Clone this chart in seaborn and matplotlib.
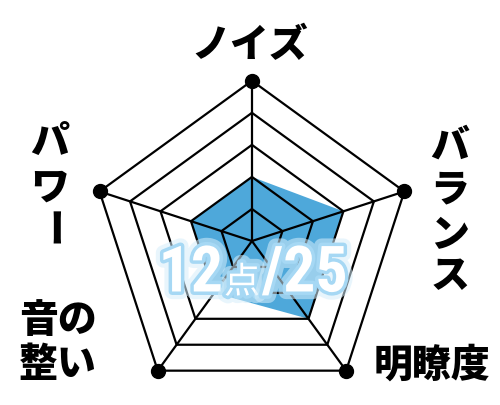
import numpy as np
import matplotlib.pyplot as plt
import matplotlib.patheffects as pe
import seaborn as sns

# --- データ ---
categories = ["ノイズ", "バランス", "明瞭度", "音の整い", "パワー"]
scores = [2, 3, 3, 2, 2]
max_score = 5
total_text = "12"
total_unit = "点"
total_max = "/25"

sns.set_theme(style="white")
plt.rcParams["font.family"] = ["Noto Sans CJK JP", "DejaVu Sans"]

fig = plt.figure(figsize=(5, 4.05), dpi=100)
fig.patch.set_facecolor("white")

# 極座標の軸 (中心 252,241 px / 半径 160 px)
ax = fig.add_axes([0.1834, 0.0091, 0.641, 0.7916], projection="polar")
ax.set_theta_offset(np.pi / 2)
ax.set_theta_direction(-1)
ax.set_ylim(0, max_score)
ax.axis("off")

n = len(categories)
angles = np.linspace(0, 2 * np.pi, n, endpoint=False)
ang_closed = np.append(angles, angles[0])

# 点数の塗り
vals = np.append(scores, scores[0])
ax.fill(ang_closed, vals, color="#4ea8da", zorder=1, lw=0)

# グリッド (五角形)
for lv in range(1, max_score + 1):
    ax.plot(ang_closed, [lv] * (n + 1), color="black", lw=1.6, zorder=2)
for a in angles:
    ax.plot([a, a], [0, max_score], color="black", lw=1.6, zorder=2)
ax.plot(angles, [max_score] * n, "o", color="black", ms=10, zorder=3, clip_on=False)

# ラベル
bold = dict(fontweight="heavy", color="black", ha="center", va="center")
fig.text(250 / 500, 1 - 45 / 405, "ノイズ", fontsize=28, **bold)
fig.text(432 / 500, 1 - 365 / 405, "明瞭度", fontsize=28, **bold)
fig.text(58 / 500, 1 - 320 / 405, "音の", fontsize=28, **bold)
fig.text(58 / 500, 1 - 364 / 405, "整い", fontsize=28, **bold)

# 縦書きラベル
for ch, y in zip("パワー", [142, 188, 229]):
    rot = -90 if ch == "ー" else 0
    fig.text(50 / 500, 1 - y / 405, ch, fontsize=28, rotation=rot, **bold)
for ch, y in zip("バランス", [146, 190, 235, 276]):
    fig.text(450 / 500, 1 - y / 405, ch, fontsize=28, **bold)

# 合計点
narrow = ["Roboto Condensed", "Liberation Sans Narrow", "Noto Sans CJK JP"]
glow = [pe.withStroke(linewidth=11, foreground="#d6eefb", alpha=0.55),
        pe.withStroke(linewidth=5, foreground="#a6d8f4")]
fig.text(223 / 500, 1 - 274 / 405, total_text, fontsize=46, color="white",
         family=narrow, fontweight="bold",
         ha="right", va="center", path_effects=glow, zorder=5)
fig.text(224 / 500, 1 - 283 / 405, total_unit, fontsize=26, color="white",
         ha="left", va="center", path_effects=glow, zorder=5)
fig.text(262 / 500, 1 - 274 / 405, total_max, fontsize=46, color="white",
         family=narrow, fontweight="bold",
         ha="left", va="center", path_effects=glow, zorder=5)

fig.savefig("out.png", dpi=100, facecolor="white")
